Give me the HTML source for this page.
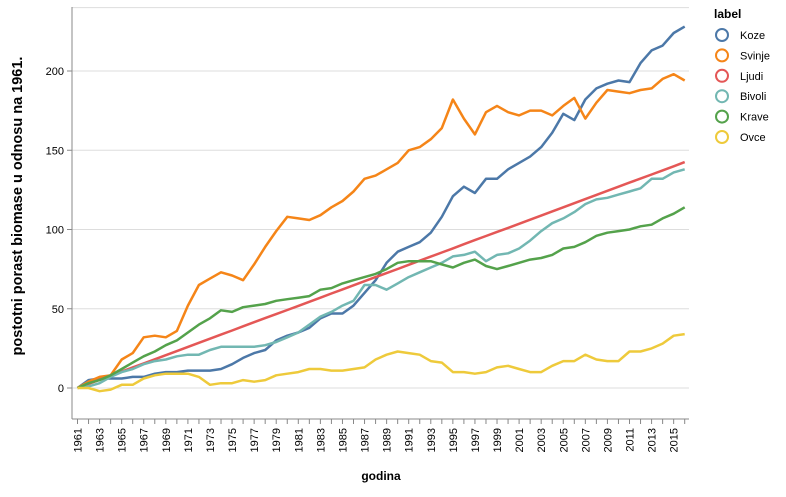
<!DOCTYPE html>
<html><head><meta charset="utf-8"><style>
body{margin:0;background:#fff;font-family:"Liberation Sans",sans-serif;}
svg text{font-family:"Liberation Sans",sans-serif;}
</style></head><body>
<svg id="chart" width="786" height="492"></svg>
<script>
const years=[];for(let y=1961;y<=2016;y++)years.push(y);
const seriesNames=["Koze","Svinje","Ljudi","Bivoli","Krave","Ovce"];
const colors=["#4c78a8","#f58518","#e45756","#72b7b2","#54a24b","#eeca3b"];
const koze=[0,5,6,6,6,7,7,9,10,10,11,11,11,12,15,19,22,24,30,33,35,38,44,47,47,52,60,68,79,86,89,92,98,108,121,127,123,132,132,138,142,146,152,161,173,169,182,189,192,194,193,205,213,216,224,228];
const svinje=[0,4,7,8,18,22,32,33,32,36,52,65,69,73,71,68,78,89,99,108,107,106,109,114,118,124,132,134,138,142,150,152,157,164,182,170,160,174,178,174,172,175,175,172,178,183,170,180,188,187,186,188,189,195,198,194];
const ljudi=[0,2.6,5.2,7.8,10.4,13,15.5,18.1,20.7,23.3,25.9,28.5,31.1,33.7,36.3,38.9,41.5,44.1,46.6,49.2,51.8,54.4,57,59.6,62.2,64.8,67.4,70,72.5,75.1,77.7,80.3,82.9,85.5,88.1,90.7,93.3,95.9,98.5,101,103.6,106.2,108.8,111.4,114,116.6,119.2,121.8,124.4,127,129.6,132.1,134.7,137.3,139.9,142.5];
const bivoli=[0,1,3,7,10,12,15,17,18,20,21,21,24,26,26,26,26,27,29,32,35,40,45,48,52,55,65,65,62,66,70,73,76,79,83,84,86,80,84,85,88,93,99,104,107,111,116,119,120,122,124,126,132,132,136,138];
const krave=[0,3,5,8,12,16,20,23,27,30,35,40,44,49,48,51,52,53,55,56,57,58,62,63,66,68,70,72,75,79,80,80,80,78,76,79,81,77,75,77,79,81,82,84,88,89,92,96,98,99,100,102,103,107,110,114];
const ovce=[0,0,-2,-1,2,2,6,8,9,9,9,7,2,3,3,5,4,5,8,9,10,12,12,11,11,12,13,18,21,23,22,21,17,16,10,10,9,10,13,14,12,10,10,14,17,17,21,18,17,17,23,23,25,28,33,34];
const allSeries=[koze,svinje,ljudi,bivoli,krave,ovce];
const yTicks=[0,50,100,150,200];

const NS="http://www.w3.org/2000/svg";
const svg=document.getElementById('chart');
const X0=77.5,DX=11.04,Y0=388,KY=1.585;
const xs=yr=>X0+(yr-1961)*DX;
const ys=v=>Y0-v*KY;
function mk(tag,attrs,parent){const e=document.createElementNS(NS,tag);for(const k in attrs)e.setAttribute(k,attrs[k]);(parent||svg).appendChild(e);return e;}

const grid=mk('g',{});


[0,50,100,150,200,240].forEach(v=>{const l=mk('line',{x1:72,x2:689,y1:ys(v),y2:ys(v),stroke:'#ddd','stroke-width':1},grid);

});
const yax=mk('g',{});


mk('line',{x1:72,x2:72,y1:7,y2:419,stroke:'#888'},yax);
yTicks.forEach(v=>{mk('line',{x1:67,x2:72,y1:ys(v),y2:ys(v),stroke:'#888'},yax);
const t=mk('text',{x:64,y:ys(v)+4,'text-anchor':'end','font-size':11,fill:'#000'},yax);t.textContent=v;

});
const yt=mk('text',{transform:'translate(22,206) rotate(-90)','text-anchor':'middle','font-size':14.5,'font-weight':'bold'});
yt.textContent='postotni porast biomase u odnosu na 1961.';


const xax=mk('g',{});


mk('line',{x1:72,x2:689,y1:419,y2:419,stroke:'#888'},xax);
years.forEach(yr=>{mk('line',{x1:xs(yr),x2:xs(yr),y1:419,y2:424,stroke:'#888'},xax);
if((yr-1961)%2===0){const t=mk('text',{transform:`translate(${xs(yr)+4},428) rotate(-90)`,'text-anchor':'end','font-size':11},xax);t.textContent=yr;

}});
const xt=mk('text',{x:381,y:480,'text-anchor':'middle','font-size':12,'font-weight':'bold'});
xt.textContent='godina';


allSeries.forEach((s,i)=>{const d=s.map((v,j)=>(j?'L':'M')+xs(years[j]).toFixed(1)+','+ys(v).toFixed(1)).join('');
const p=mk('path',{d,fill:'none',stroke:colors[i],'stroke-width':2.5,'stroke-linejoin':'round'});

});
const lg=mk('g',{});


const lt=mk('text',{x:714,y:18,'font-size':12,'font-weight':'bold'},lg);lt.textContent='label';
seriesNames.forEach((n,i)=>{const g=mk('g',{},lg);


mk('circle',{cx:722,cy:35+i*20.4,r:6,fill:'none',stroke:colors[i],'stroke-width':2},g);
const t=mk('text',{x:740,y:39+i*20.4,'font-size':11},g);t.textContent=n;});
</script>
</body></html>
